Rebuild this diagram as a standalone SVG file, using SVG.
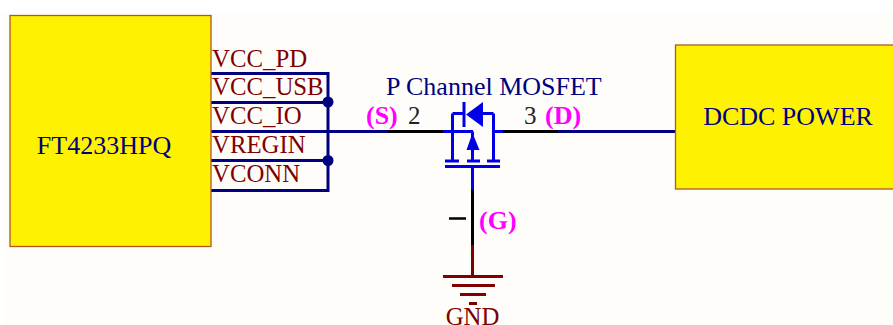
<svg xmlns="http://www.w3.org/2000/svg" width="893" height="325" viewBox="0 0 893 325">
<style>
text{font-family:"Liberation Serif","Times New Roman",serif}
.box{fill:#fff200;stroke:#b0562a;stroke-width:1.3}
.net{fill:none;stroke:#000080;stroke-width:3}
.pin{fill:none;stroke:#000;stroke-width:3}
.fet{fill:none;stroke:#0000e8;stroke-width:3}
.gnd{fill:none;stroke:#800000;stroke-width:3}
.pn{font-size:24.800px;fill:#800000}
.lab{font-size:26px;fill:#000080}
.tag{font-size:26px;font-weight:bold;fill:#ff00ff}
.num{font-size:25px;fill:#222}
</style>
<rect width="893" height="325" fill="#fffdfa"/>
<rect width="893" height="13" fill="#fff"/>
<rect width="3" height="325" fill="#fff"/>
<g id="connectors">
<path class="net" d="M211 73.500H328V190.500H211M211 102.500H328M211 131.500H388M211 160.500H328"/>
<circle cx="328" cy="102" r="5.500" fill="#000080"/>
<circle cx="328" cy="160.500" r="5.500" fill="#000080"/>
<path class="pin" d="M388 131.500H443M503 131.500H558M472.500 190V245"/>
<path class="net" d="M558 131.500H676"/>
<path class="gnd" d="M472.500 245V276M443 276.500H503M452 285.500H495M460 294.500H486M469 303.500H477"/>
<path d="M449 218.500H466" stroke="#000" stroke-width="2.500" fill="none"/>
</g>
<g id="ft4233">
<rect class="box" x="10" y="15.500" width="201" height="231"/>
<text class="lab" x="104" y="154" text-anchor="middle">FT4233HPQ</text>
<text class="pn" x="212" y="67">VCC_PD</text>
<text class="pn" x="212" y="95">VCC_USB</text>
<text class="pn" x="212" y="124">VCC_IO</text>
<text class="pn" x="212" y="153">VREGIN</text>
<text class="pn" x="212" y="182">VCONN</text>
</g>
<g id="mosfet">
<text class="lab" x="386" y="95">P Channel MOSFET</text>
<path class="fet" d="M443 131.500H473M495 131.500H503M452.500 113.500V161M493.500 113.500V161M452.500 113.500H465M482 113.500H493.500M472.500 131.500V160M445 161H459M467 161H480M487 161H500M445 166.500H500M472.500 166V190"/>
<path d="M464 102V127" stroke="#0000e8" stroke-width="3"/>
<path d="M466 114.500L483 102V127Z" fill="#0000e8"/>
<path d="M472.500 133L466.500 150H479.500Z" fill="#0000e8"/>
<text class="num" x="408" y="124">2</text>
<text class="num" x="524" y="124">3</text>
<text class="tag" x="366" y="124">(S)</text>
<text class="tag" x="545" y="124">(D)</text>
<text class="tag" x="479" y="229">(G)</text>
</g>
<g id="gnd">
<text class="pn" x="472.500" y="325" text-anchor="middle">GND</text>
</g>
<g id="dcdc">
<rect class="box" x="675.500" y="45" width="225" height="144"/>
<text class="lab" x="788" y="125" text-anchor="middle">DCDC POWER</text>
</g>
</svg>
